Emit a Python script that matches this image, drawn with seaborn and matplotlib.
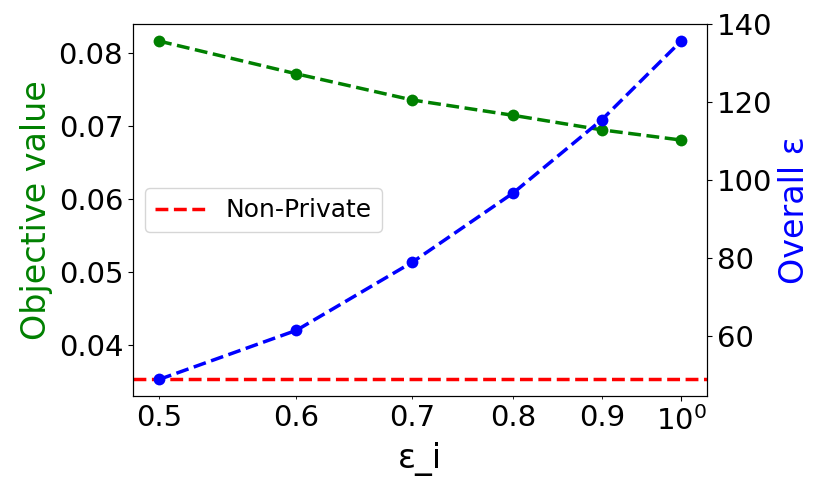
import numpy as np
import pandas as pd
import matplotlib
matplotlib.use("Agg")
import matplotlib.pyplot as plt
import matplotlib.ticker as mticker
import seaborn as sns

# data
eps_i = [0.5, 0.6, 0.7, 0.8, 0.9, 1.0]
objective = [0.0817, 0.0772, 0.0736, 0.0715, 0.0695, 0.0681]
overall_eps = [48.9, 61.5, 79.0, 96.7, 115.5, 135.7]
non_private = 0.0352

df = pd.DataFrame({"eps_i": eps_i, "objective": objective, "overall": overall_eps})

fig, ax = plt.subplots(figsize=(8.31, 4.93), dpi=100)
fig.subplots_adjust(left=0.16, right=0.851, top=0.951, bottom=0.196)

ax.set_xscale("log")
sns.lineplot(data=df, x="eps_i", y="objective", ax=ax, color="green",
             linestyle="--", marker="o", markersize=8.5, markeredgewidth=0,
             linewidth=2.5)
ax.axhline(non_private, color="red", linestyle="--", linewidth=2.5,
           label="Non-Private")

ax2 = ax.twinx()
sns.lineplot(data=df, x="eps_i", y="overall", ax=ax2, color="blue",
             linestyle="--", marker="o", markersize=8.5, markeredgewidth=0,
             linewidth=2.5)

ax.set_xlabel("ε_i", fontsize=24)
ax.set_ylabel("Objective value", fontsize=24, color="green")
ax2.set_ylabel("Overall ε", fontsize=24, color="blue")

ax.xaxis.set_minor_formatter(mticker.FuncFormatter(
    lambda v, p: f"{v:.1f}" if 0.45 < v < 0.95 else ""))
ax.tick_params(axis="both", which="both", labelsize=21)
ax2.tick_params(axis="y", labelsize=21)

ax.legend(loc="center left", fontsize=18)

fig.savefig("out.png", dpi=100)
